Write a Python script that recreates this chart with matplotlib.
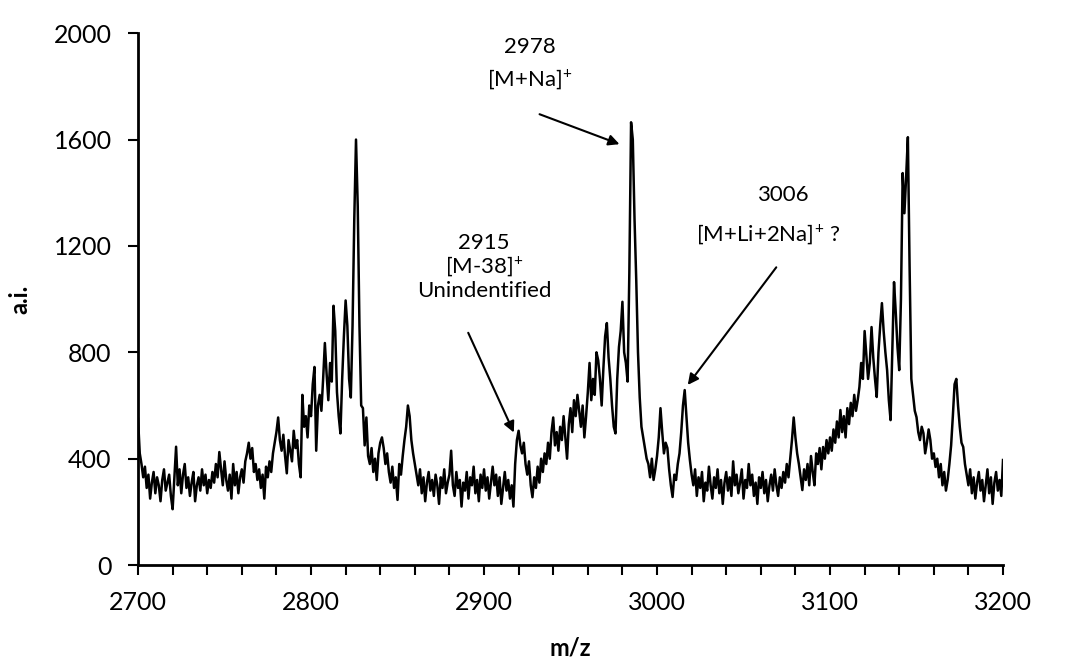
import numpy as np
import matplotlib
matplotlib.use("Agg")
import matplotlib.pyplot as plt
from matplotlib.ticker import MultipleLocator

plt.rcParams['font.family'] = ['Lato', 'DejaVu Sans']
plt.rcParams['mathtext.fontset'] = 'custom'
plt.rcParams['mathtext.rm'] = 'Lato'

# m/z axis, one reading per Da
mz = np.arange(2700, 3201)

# intensities, 100 Da per block
ai_2700 = [550, 420, 380, 330, 370, 290, 340, 250, 310, 350, 270, 330, 300, 240, 320, 360, 280, 310, 340, 260,
           210, 330, 445, 300, 360, 270, 340, 380, 290, 330, 260, 310, 350, 240, 300, 330, 280, 360, 300, 340,
           270, 320, 290, 350, 310, 380, 330, 425, 360, 300, 390, 320, 280, 340, 250, 380, 300, 350, 270, 330,
           360, 310, 390, 420, 460, 400, 440, 350, 380, 320, 360, 290, 340, 250, 370, 330, 390, 350, 420, 460,
           500, 555, 470, 430, 490, 410, 345, 470, 430, 390, 505, 440, 470, 380, 330, 640, 520, 560, 480, 600]
ai_2800 = [560, 680, 745, 430, 600, 640, 580, 700, 835, 720, 620, 760, 690, 975, 880, 650, 560, 495, 700, 860,
           995, 900, 700, 630, 900, 1300, 1600, 1350, 900, 600, 590, 450, 555, 410, 380, 440, 350, 400, 320, 420,
           460, 480, 440, 380, 420, 350, 310, 370, 290, 330, 245, 380, 340, 410, 470, 520, 600, 560, 470, 420,
           380, 340, 300, 360, 270, 330, 240, 310, 350, 280, 320, 260, 340, 300, 230, 330, 290, 360, 270, 310,
           340, 430, 300, 260, 350, 290, 320, 220, 310, 280, 350, 250, 330, 300, 370, 270, 320, 240, 340, 290]
ai_2900 = [360, 280, 330, 250, 310, 370, 300, 340, 260, 330, 230, 290, 350, 280, 320, 250, 300, 220, 380, 470,
           505, 450, 420, 460, 380, 340, 390, 300, 255, 330, 290, 370, 310, 400, 350, 420, 380, 460, 400, 500,
           555, 450, 500, 430, 520, 470, 560, 480, 400, 530, 590, 500, 620, 560, 640, 580, 520, 600, 480, 560,
           650, 760, 620, 700, 640, 800, 770, 700, 600, 740, 860, 910, 780, 700, 600, 520, 495, 700, 820, 880,
           990, 800, 760, 690, 1100, 1665, 1600, 1300, 1070, 800, 630, 520, 480, 440, 400, 380, 330, 400, 320, 360]
ai_3000 = [410, 480, 590, 500, 420, 460, 440, 360, 300, 256, 340, 320, 380, 420, 500, 600, 658, 560, 460, 395,
           340, 300, 360, 260, 330, 290, 350, 240, 310, 280, 370, 300, 250, 330, 290, 360, 270, 320, 230, 310,
           350, 280, 330, 260, 390, 300, 340, 270, 310, 360, 250, 320, 290, 380, 300, 340, 260, 310, 230, 330,
           290, 350, 270, 320, 240, 300, 340, 280, 360, 300, 260, 330, 290, 350, 310, 380, 330, 400, 470, 555,
           480, 420, 380, 330, 282, 360, 320, 380, 300, 410, 350, 300, 420, 380, 440, 360, 444, 400, 470, 420]
ai_3100 = [480, 430, 510, 460, 540, 480, 583, 500, 560, 480, 590, 530, 610, 560, 640, 580, 620, 670, 760, 700,
           880, 790, 700, 760, 895, 780, 700, 632, 800, 900, 985, 880, 800, 733, 620, 545, 800, 1064, 950, 820,
           733, 1000, 1474, 1323, 1460, 1609, 1120, 700, 640, 580, 556, 500, 470, 520, 496, 420, 460, 510, 470, 400,
           420, 369, 400, 330, 380, 300, 350, 280, 320, 380, 450, 560, 680, 700, 600, 520, 460, 444, 380, 340,
           300, 360, 270, 330, 250, 310, 350, 280, 320, 240, 300, 360, 270, 330, 230, 310, 350, 280, 320, 260,
           395]

intensity = np.array(ai_2700 + ai_2800 + ai_2900 + ai_3000 + ai_3100)

fig = plt.figure(figsize=(10.65, 6.64), dpi=100)
ax = fig.add_axes([0.1296, 0.149, 0.8122, 0.801])

ax.plot(mz, intensity, color='black', lw=1.8)

ax.set_xlim(2700, 3200)
ax.set_ylim(0, 2000)
ax.xaxis.set_major_locator(MultipleLocator(100))
ax.xaxis.set_minor_locator(MultipleLocator(20))
ax.yaxis.set_major_locator(MultipleLocator(400))

for s in ['top', 'right']:
    ax.spines[s].set_visible(False)
for s in ['left', 'bottom']:
    ax.spines[s].set_linewidth(2)

ax.tick_params(axis='both', which='major', direction='out', length=7, width=1.5, labelsize=18)
ax.tick_params(axis='x', which='minor', direction='out', length=7, width=1.5)
ax.tick_params(axis='x', pad=12)
ax.tick_params(axis='y', pad=12)

ax.set_xlabel('m/z', fontsize=17, fontweight='bold', labelpad=16)
ax.set_ylabel('a.i.', fontsize=17, fontweight='bold', labelpad=16)

# peak labels and arrows
txt = dict(fontsize=16, ha='center', va='center')
ax.text(2926.6, 1947, '2978', **txt)
ax.text(2926.6, 1826, '[M+Na]$^{+}$', **txt)
ax.annotate('', xy=(2979.8, 1579), xytext=(2930.6, 1699),
            arrowprops=dict(arrowstyle='-|>', color='black', lw=1.5, mutation_scale=16))

ax.text(2900, 1211, '2915', **txt)
ax.text(2900, 1123, '[M-38]$^{+}$', **txt)
ax.text(2900, 1030, 'Unindentified', **txt)
ax.annotate('', xy=(2917.9, 489), xytext=(2890.2, 883),
            arrowprops=dict(arrowstyle='-|>', color='black', lw=1.5, mutation_scale=16))

ax.text(3073, 1391, '3006', **txt)
ax.text(3064, 1240, '[M+Li+2Na]$^{+}$ ?', **txt)
ax.annotate('', xy=(3016.8, 669), xytext=(3069.9, 1128),
            arrowprops=dict(arrowstyle='-|>', color='black', lw=1.5, mutation_scale=16))

fig.savefig('out.png', dpi=100)
